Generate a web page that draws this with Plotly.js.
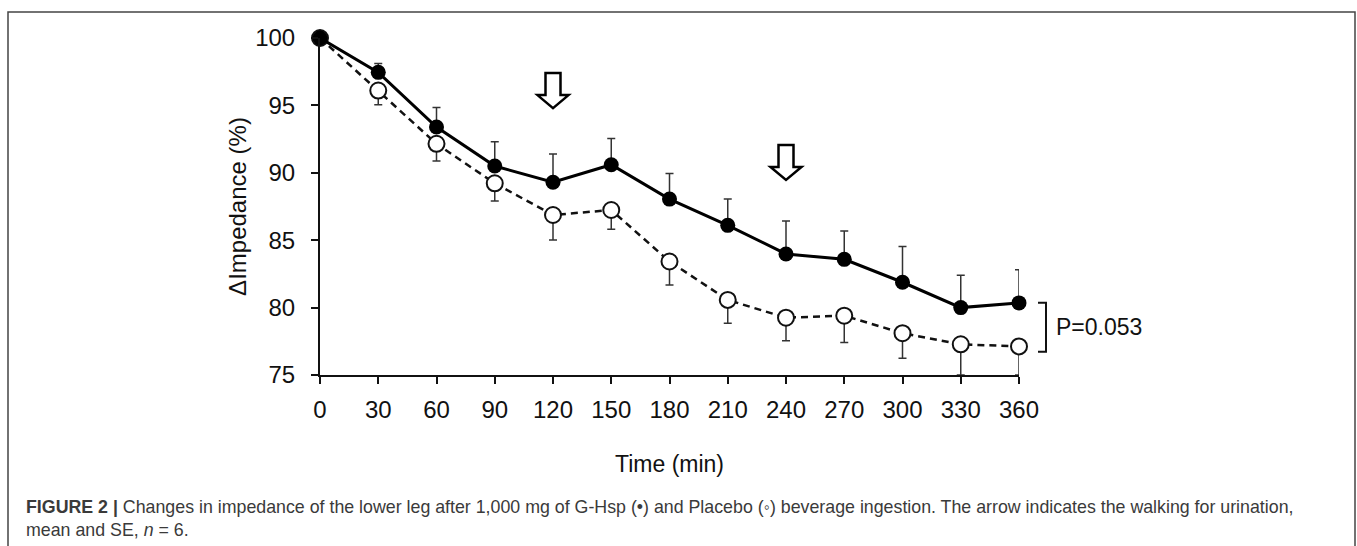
<!DOCTYPE html>
<html>
<head>
<meta charset="utf-8">
<script src="https://cdn.plot.ly/plotly-3.0.1.min.js"></script>
<style>html,body{margin:0;padding:0;background:#fff;}#chart{width:1357px;height:546px;}</style>
</head>
<body>
<div id="chart"></div>
<script>
// ---- data ----
const timeMin = [0, 30, 60, 90, 120, 150, 180, 210, 240, 270, 300, 330, 360];
const ghspMean = [100, 97.45, 93.4, 90.5, 89.3, 90.6, 88.05, 86.1, 83.98, 83.58, 81.88, 80.0, 80.35];
const ghspSE = [0, 0.65, 1.45, 1.8, 2.1, 1.95, 1.9, 1.95, 2.45, 2.1, 2.65, 2.4, 2.45];
const placeboMean = [100, 96.1, 92.15, 89.22, 86.87, 87.24, 83.42, 80.57, 79.25, 79.4, 78.1, 77.28, 77.12];
const placeboSE = [0, 1.05, 1.27, 1.32, 1.86, 1.43, 1.74, 1.74, 1.71, 1.98, 1.86, 2.28, 2.12];
const arrowTimes = [120, 240];
const arrowTipValues = [94.8, 89.47];
const xTicks = [0, 30, 60, 90, 120, 150, 180, 210, 240, 270, 300, 330, 360];
const yTicks = [75, 80, 85, 90, 95, 100];
const pText = "P=0.053";

// ---- geometry helpers (pixel -> paper) ----
const L = 320, R = 1019, T = 38, B = 375;
const W = R - L, H = B - T;
const pxX = p => (p - L) / W;
const pxY = p => (B - p) / H;
const minPerPx = 360 / W, valPerPx = 25 / H;

const placebo = {
  x: timeMin, y: placeboMean, type: 'scatter', mode: 'lines+markers', name: 'Placebo',
  line: {color: '#111', width: 2.5, dash: '7px,5px'},
  marker: {symbol: 'circle', size: 16, color: '#fff', line: {color: '#111', width: 2}},
  error_y: {type: 'data', symmetric: false, array: timeMin.map(() => 0), arrayminus: placeboSE,
            color: '#333', thickness: 1.5, width: 4},
  cliponaxis: false, showlegend: false
};
const ghsp = {
  x: timeMin, y: ghspMean, type: 'scatter', mode: 'lines+markers', name: 'G-Hsp',
  line: {color: '#000', width: 3},
  marker: {symbol: 'circle', size: 15, color: '#000'},
  error_y: {type: 'data', symmetric: false, array: ghspSE, arrayminus: timeMin.map(() => 0),
            color: '#333', thickness: 1.5, width: 4},
  cliponaxis: false, showlegend: false
};

// hollow block arrows
const shapes = [];
arrowTimes.forEach((t, i) => {
  const tip = arrowTipValues[i];
  const sw = 7.5 * minPerPx, hw = 15.5 * minPerPx;
  const headBase = tip + 13 * valPerPx, top = tip + 35 * valPerPx;
  const path = `M ${t - sw},${top} L ${t + sw},${top} L ${t + sw},${headBase} L ${t + hw},${headBase} L ${t},${tip} L ${t - hw},${headBase} L ${t - sw},${headBase} Z`;
  shapes.push({type: 'path', xref: 'x', yref: 'y', path: path, line: {color: '#000', width: 2.5}, fillcolor: '#fff'});
});
// bracket
shapes.push({type: 'path', xref: 'paper', yref: 'paper',
  path: `M ${pxX(1038)},${pxY(302.7)} L ${pxX(1046)},${pxY(302.7)} L ${pxX(1046)},${pxY(351.7)} L ${pxX(1038)},${pxY(351.7)}`,
  line: {color: '#111', width: 2}});
// outer frame
shapes.push({type: 'rect', xref: 'paper', yref: 'paper',
  x0: pxX(8), x1: pxX(1355), y0: pxY(560), y1: pxY(12),
  line: {color: '#444', width: 1.5}, layer: 'below'});

const capFont = {family: 'Liberation Sans, Arial, sans-serif', size: 17.8, color: '#3a3a3a'};
const annotations = [
  {xref: 'paper', yref: 'paper', x: pxX(1054), y: pxY(327), xanchor: 'left', yanchor: 'middle',
   text: pText, showarrow: false, font: {family: 'Liberation Sans, Arial, sans-serif', size: 23, color: '#111'}},
  {xref: 'paper', yref: 'paper', x: pxX(24), y: pxY(507), xanchor: 'left', yanchor: 'middle', showarrow: false,
   text: '<b>FIGURE 2 |</b> Changes in impedance of the lower leg after 1,000 mg of G-Hsp (\u2022) and Placebo (\u25E6) beverage ingestion. The arrow indicates the walking for urination,',
   font: capFont},
  {xref: 'paper', yref: 'paper', x: pxX(24), y: pxY(530), xanchor: 'left', yanchor: 'middle', showarrow: false,
   text: 'mean and SE, <i>n</i> = 6.', font: capFont}
];

const tickFont = {family: 'Liberation Sans, Arial, sans-serif', size: 24, color: '#111'};
const layout = {
  width: 1357, height: 546,
  margin: {l: L, r: 1357 - R, t: T, b: 546 - B, pad: 0},
  paper_bgcolor: '#fff', plot_bgcolor: '#fff',
  showlegend: false,
  xaxis: {range: [0, 360], tickvals: xTicks, ticktext: xTicks.map(String), showgrid: false, zeroline: false,
          showline: true, linecolor: '#111', linewidth: 2, ticks: 'outside', ticklen: 7, tickwidth: 2, tickcolor: '#111',
          tickfont: tickFont, ticklabelstandoff: 5,
          title: {text: 'Time (min)', font: {family: 'Liberation Sans, Arial, sans-serif', size: 23, color: '#111'}, standoff: 34}, automargin: false},
  yaxis: {range: [75, 100], tickvals: yTicks, ticktext: yTicks.map(String), showgrid: false, zeroline: false,
          showline: true, linecolor: '#111', linewidth: 2, ticks: 'outside', ticklen: 7, tickwidth: 2, tickcolor: '#111',
          tickfont: tickFont, ticklabelstandoff: 11,
          title: {text: '\u0394Impedance (%)', font: {family: 'Liberation Sans, Arial, sans-serif', size: 24, color: '#111'}, standoff: 2}, automargin: false},
  shapes: shapes,
  annotations: annotations
};

Plotly.newPlot('chart', [placebo, ghsp], layout, {displayModeBar: false, staticPlot: true});
</script>
</body>
</html>
